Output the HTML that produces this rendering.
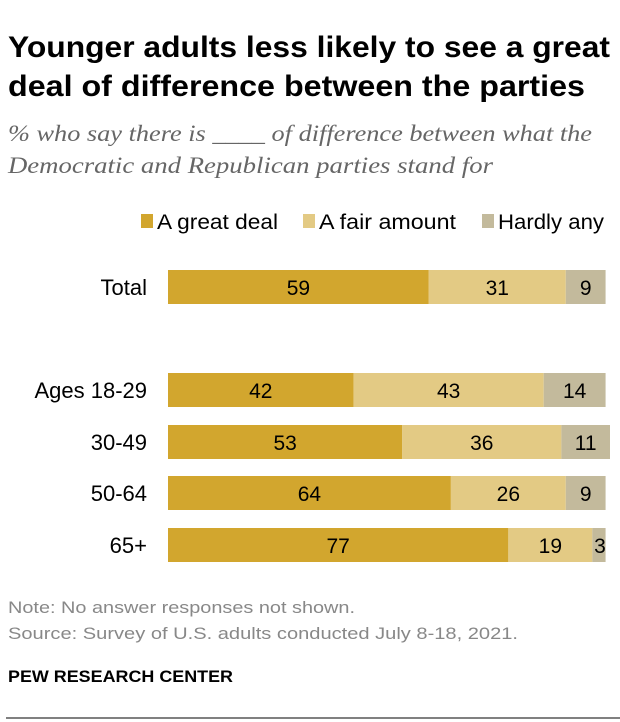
<!DOCTYPE html>
<html><head><meta charset="utf-8">
<style>
body{margin:0;width:620px;height:722px;background:#fff;font-family:"Liberation Sans",sans-serif;position:relative;overflow:hidden}
svg text{font-family:"Liberation Sans",sans-serif}
</style></head><body>
<svg width="620" height="722" style="position:absolute;left:0;top:0">
<text x="8" y="57" font-size="30" font-weight="bold" textLength="602" lengthAdjust="spacingAndGlyphs">Younger adults less likely to see a great</text>
<text x="8" y="96" font-size="30" font-weight="bold" textLength="577" lengthAdjust="spacingAndGlyphs">deal of difference between the parties</text>
<text x="8" y="141" font-size="23" font-style="italic" fill="#666" style="font-family:'Liberation Serif',serif" textLength="584" lengthAdjust="spacingAndGlyphs">% who say there is ____ of difference between what the</text>
<text x="8" y="173" font-size="23" font-style="italic" fill="#666" style="font-family:'Liberation Serif',serif" textLength="485" lengthAdjust="spacingAndGlyphs">Democratic and Republican parties stand for</text>
<text x="8" y="613" font-size="17" fill="#888" textLength="347" lengthAdjust="spacingAndGlyphs">Note: No answer responses not shown.</text>
<text x="8" y="639" font-size="17" fill="#888" textLength="510" lengthAdjust="spacingAndGlyphs">Source: Survey of U.S. adults conducted July 8-18, 2021.</text>
<text x="8" y="682" font-size="17" font-weight="bold" textLength="225" lengthAdjust="spacingAndGlyphs">PEW RESEARCH CENTER</text>
<line x1="6" y1="718" x2="620" y2="718" stroke="#000" stroke-width="1"/>
</svg>
<svg id="c" width="620" height="400" style="position:absolute;left:0;top:190px"></svg>
<script>
const categories=["Total","Ages 18-29","30-49","50-64","65+"];
const greatDeal=[59,42,53,64,77];
const fairAmount=[31,43,36,26,19];
const hardlyAny=[9,14,11,9,3];
const seriesNames=["A great deal","A fair amount","Hardly any"];
const colors=["#D2A62E","#E3CA84","#C3BA9C"];
const rowY=[97,200,252,303,355];
const svg=document.getElementById('c');const NS="http://www.w3.org/2000/svg";
const x0=168,k=4.42,bh=34;
function x(v){return x0+v*k;}
function mk(t,a,txt){const e=document.createElementNS(NS,t);for(const q in a)e.setAttribute(q,a[q]);if(txt!=null)e.textContent=txt;svg.appendChild(e);return e;}
const lx=[141,303,482];
const lw=[121,137,106];
seriesNames.forEach((n,i)=>{
 const r=mk('rect',{x:lx[i],y:24,width:12,height:14,fill:colors[i]});
 
 
 const t=mk('text',{x:lx[i]+16,y:39,'font-size':21,fill:'#000',textLength:lw[i],lengthAdjust:'spacingAndGlyphs'},n);
 
 
});
const series=[greatDeal,fairAmount,hardlyAny];
categories.forEach((c,i)=>{
 const cy=rowY[i];
 const l=mk('text',{x:147,y:cy+8,'font-size':22,'text-anchor':'end',fill:'#000'},c);
 
 
 let acc=0;
 series.forEach((s,j)=>{
  const v=s[i];
  const r=mk('rect',{x:x(acc),y:cy-bh/2,width:v*k,height:bh,fill:colors[j]});
  
  
  const t=mk('text',{x:x(acc)+v*k/2+(v<5?1:0),y:cy+8,'font-size':21,'text-anchor':'middle',fill:'#000'},v);
  
  
  acc+=v;
 });
});
</script>
</body></html>
